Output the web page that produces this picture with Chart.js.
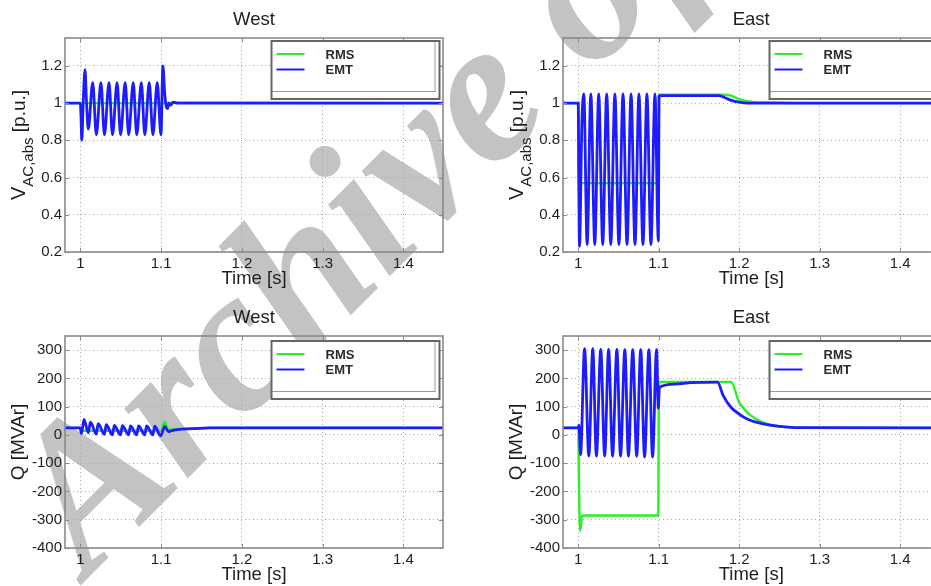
<!DOCTYPE html>
<html><head><meta charset="utf-8">
<script src="https://cdn.jsdelivr.net/npm/chart.js@4/dist/chart.umd.min.js"></script>
<style>
html,body{margin:0;padding:0;background:#fff;overflow:hidden;width:931px;height:586px;position:relative;}
canvas{position:absolute;display:block;}
</style></head><body>
<canvas id="wm" width="931" height="586" style="left:0;top:0"></canvas>
<canvas id="c1" width="470" height="293" style="left:0;top:0"></canvas>
<canvas id="c2" width="500" height="293" style="left:470px;top:0"></canvas>
<canvas id="c3" width="470" height="293" style="left:0;top:293px"></canvas>
<canvas id="c4" width="500" height="293" style="left:470px;top:293px"></canvas>
<script>
// ---------- data ----------
const seriesNames = ['RMS', 'EMT'];
const panelTitles = ['West', 'East', 'West', 'East'];
const xTicks = [1, 1.1, 1.2, 1.3, 1.4];
const xTickLabels = ['1', '1.1', '1.2', '1.3', '1.4'];
const vTicks = [0.2, 0.4, 0.6, 0.8, 1, 1.2];
const vTickLabels = ['0.2', '0.4', '0.6', '0.8', '1', '1.2'];
const qTicks = [-400, -300, -200, -100, 0, 100, 200, 300];
const qTickLabels = ['-400', '-300', '-200', '-100', '0', '100', '200', '300'];

// [time s, value]
const westV_RMS = [[0.981,1.0],[1.0,1.0],[1.001,1.0],[1.1,1.0],[1.11,1.002],[1.449,1.0]];
const westV_EMT = [[0.981,1.0],[1.0,1.0],[1.0008,0.93],[1.0018,0.80],[1.0035,1.0],[1.0058,1.18],[1.0075,1.02],[1.0098,0.86],
  [1.0153,1.11],[1.0198,0.83],[1.0255,1.11],[1.0298,0.83],[1.0355,1.11],[1.0398,0.83],[1.0455,1.11],[1.0498,0.83],
  [1.0555,1.11],[1.0598,0.83],[1.0655,1.11],[1.0698,0.83],[1.0755,1.11],[1.0798,0.83],[1.0853,1.11],[1.0898,0.83],
  [1.0952,1.11],[1.0998,0.83],[1.1022,1.20],[1.1045,1.05],[1.1065,0.98],[1.108,0.97],[1.1095,1.0],[1.112,0.99],
  [1.115,1.005],[1.12,1.0],[1.449,1.0]];
const eastV_RMS = [[0.981,1.0],[1.0,1.0],[1.0005,0.57],[1.0995,0.57],[1.1,1.045],[1.18,1.045],[1.19,1.04],[1.2,1.022],
  [1.21,1.01],[1.22,1.005],[1.24,1.003],[1.28,1.0],[1.449,1.0]];
const eastV_EMT = [[0.981,1.0],[1.0,1.0],[1.0006,0.6],[1.0015,0.23],[1.0045,0.9],[1.0069,1.05],[1.011,0.24],[1.0156,1.05],
  [1.0205,0.24],[1.0254,1.05],[1.0304,0.24],[1.0353,1.05],[1.0404,0.24],[1.0455,1.05],[1.0505,0.24],[1.0556,1.05],
  [1.0606,0.24],[1.0656,1.05],[1.0705,0.24],[1.0754,1.05],[1.0804,0.24],[1.0853,1.05],[1.0903,0.24],[1.0953,1.05],
  [1.0995,0.26],[1.1005,1.04],[1.12,1.04],[1.175,1.04],[1.18,1.033],[1.19,1.015],[1.2,1.005],[1.21,1.0],[1.449,1.0]];
const westQ_RMS = [[0.981,25],[1.0,25],[1.001,15],[1.1,15],[1.1045,47],[1.108,22],[1.112,19],[1.12,21],[1.14,23],[1.16,25],[1.449,25]];
const westQ_EMT = [[0.981,25],[1.0,25],[1.0008,10],[1.0015,5],[1.0045,55],[1.0098,8],[1.0125,45],[1.0198,3],[1.022,40],
  [1.0298,2],[1.032,36],[1.0398,0],[1.042,34],[1.0498,0],[1.052,33],[1.0598,0],[1.062,32],[1.0698,0],[1.072,32],
  [1.0798,0],[1.082,32],[1.0898,0],[1.092,31],[1.0995,-3],[1.1045,30],[1.109,12],[1.113,15],[1.12,19],[1.14,22],
  [1.16,25],[1.449,25]];
const eastQ_RMS = [[0.981,25],[1.0,25],[1.0008,-160],[1.0022,-340],[1.0045,-290],[1.006,-285],[1.0995,-285],[1.1,90],
  [1.1008,187],[1.19,187],[1.2,115],[1.21,80],[1.22,58],[1.23,44],[1.24,35],[1.25,30],[1.27,26],[1.449,25]];
const eastQ_EMT = [[0.981,25],[1.0,25],[1.0008,35],[1.0028,-70],[1.0078,305],[1.0131,-75],[1.018,305],[1.0225,-75],
  [1.0279,303],[1.0328,-75],[1.0377,303],[1.0426,-75],[1.048,303],[1.0525,-75],[1.0579,302],[1.0623,-75],[1.0677,302],
  [1.0726,-75],[1.0776,302],[1.0824,-78],[1.0878,302],[1.0923,-78],[1.0973,302],[1.0995,95],[1.1008,168],[1.12,180],
  [1.14,185],[1.173,187],[1.18,140],[1.19,97],[1.2,74],[1.21,56],[1.22,46],[1.23,39],[1.25,30],[1.27,26],[1.449,25]];

// ---------- styling ----------
const GREEN = '#2bef2b', BLUE = '#1c1cff';
const FONT = '"Liberation Sans", Arial, sans-serif';
const TXT = '#1e1e1e';

// watermark (behind the transparent chart canvases)
(function(){
  const c = document.getElementById('wm').getContext('2d');
  c.save();
  c.translate(88, 578);
  c.rotate(-45 * Math.PI / 180);
  c.fillStyle = '#c3c3c3';
  c.font = 'italic bold 205px "Liberation Serif", serif';
  c.textBaseline = 'alphabetic';
  c.fillText('Archive of SID', 0, 0);
  c.restore();
})();

function drawDeco(chart, o) {
  const ctx = chart.ctx, a = chart.chartArea;
  const xs = chart.scales.x, ys = chart.scales.y;
  ctx.save();
  // tick marks (inward) + frame
  ctx.strokeStyle = '#8a8a8a'; ctx.lineWidth = 1;
  ctx.beginPath();
  for (const t of xTicks) { const px = Math.round(xs.getPixelForValue(t)) + 0.5;
    ctx.moveTo(px, a.bottom); ctx.lineTo(px, a.bottom - 4); ctx.moveTo(px, a.top); ctx.lineTo(px, a.top + 4); }
  for (const t of o.yTicks) { const py = Math.round(ys.getPixelForValue(t)) + 0.5;
    ctx.moveTo(a.left, py); ctx.lineTo(a.left + 4, py); ctx.moveTo(a.right, py); ctx.lineTo(a.right - 4, py); }
  ctx.stroke();
  ctx.lineWidth = 1.6;
  ctx.strokeRect(a.left, a.top, a.right - a.left, a.bottom - a.top);
  // title and x label
  ctx.fillStyle = TXT; ctx.textAlign = 'center'; ctx.textBaseline = 'middle';
  ctx.font = '18.5px ' + FONT;
  const cx = (a.left + a.right) / 2;
  ctx.fillText(o.title, cx, a.top + o.titleDy);
  ctx.fillText('Time [s]', cx, a.bottom + o.xlabDy);
  // y label (rotated, with subscript parts)
  ctx.save();
  ctx.translate(a.left + o.ylabDx, (a.top + a.bottom) / 2);
  ctx.rotate(-Math.PI / 2);
  ctx.textAlign = 'left'; ctx.textBaseline = 'alphabetic';
  const widths = [];
  let total = 0;
  for (const p of o.ylab) { ctx.font = p.size + 'px ' + FONT; const w = ctx.measureText(p.t).width; widths.push(w); total += w; }
  let x = -total / 2;
  o.ylab.forEach((p, i) => { ctx.font = p.size + 'px ' + FONT; ctx.fillText(p.t, x, p.shift); x += widths[i]; });
  ctx.restore();
  // legend
  const L = a.left + 206.5, T = a.top + o.legDy, W = 168, H = 58;
  ctx.fillStyle = '#fff'; ctx.fillRect(L, T, W, H);
  ctx.strokeStyle = '#9a9a9a'; ctx.lineWidth = 1;
  ctx.beginPath(); ctx.moveTo(L, T + H - 7.5); ctx.lineTo(L + W - 4, T + H - 7.5);
  ctx.moveTo(L + W - 4.5, T); ctx.lineTo(L + W - 4.5, T + H - 7.5); ctx.stroke();
  ctx.strokeStyle = '#666'; ctx.lineWidth = 2;
  ctx.strokeRect(L, T, W, H);
  ctx.lineWidth = 2;
  ctx.strokeStyle = GREEN; ctx.beginPath(); ctx.moveTo(L + 5, T + 13); ctx.lineTo(L + 33, T + 13); ctx.stroke();
  ctx.strokeStyle = BLUE; ctx.beginPath(); ctx.moveTo(L + 5, T + 28.5); ctx.lineTo(L + 33, T + 28.5); ctx.stroke();
  ctx.fillStyle = '#2a2a2a'; ctx.font = 'bold 13px ' + FONT; ctx.textAlign = 'left'; ctx.textBaseline = 'middle';
  ctx.fillText(seriesNames[0], L + 54, T + 14);
  ctx.fillText(seriesNames[1], L + 54, T + 29.5);
  ctx.restore();
}

function xy(arr) { return arr.map(p => ({ x: p[0], y: p[1] })); }

function makeChart(id, rms, emt, cfg) {
  const ticksSet = cfg.yTicks, labels = cfg.yLabels;
  return new Chart(document.getElementById(id), {
    type: 'line',
    data: { datasets: [
      { label: seriesNames[0], data: xy(rms), borderColor: GREEN, borderWidth: 2.4, pointRadius: 0, order: 2, cubicInterpolationMode: 'monotone' },
      { label: seriesNames[1], data: xy(emt), borderColor: BLUE, borderWidth: 2.8, pointRadius: 0, order: 1, cubicInterpolationMode: 'monotone' }
    ] },
    options: {
      responsive: false, animation: false, events: [],
      layout: { padding: { top: cfg.top, right: cfg.right, left: 0, bottom: 0 } },
      plugins: { legend: { display: false }, tooltip: { enabled: false } },
      scales: {
        x: { type: 'linear', min: 0.981, max: 1.449,
          afterBuildTicks: s => { s.ticks = xTicks.map(v => ({ value: v })); },
          afterFit: s => { s.height = cfg.xh; },
          grid: { color: '#a8a8a8', lineWidth: 1, drawTicks: false },
          border: { display: false, dash: [1, 3] },
          ticks: { padding: 3, color: TXT, font: { family: FONT, size: 15 }, maxRotation: 0,
            callback: v => { const i = xTicks.findIndex(t => Math.abs(t - v) < 1e-9); return i >= 0 ? xTickLabels[i] : ''; } } },
        y: { type: 'linear', min: cfg.ymin, max: cfg.ymax,
          afterBuildTicks: s => { s.ticks = ticksSet.map(v => ({ value: v })); },
          afterFit: s => { s.width = cfg.yw; },
          grid: { color: '#a8a8a8', lineWidth: 1, drawTicks: false },
          border: { display: false, dash: [1, 3] },
          ticks: { padding: 3, color: TXT, font: { family: FONT, size: 15 },
            callback: v => { const i = ticksSet.findIndex(t => Math.abs(t - v) < 1e-9); return i >= 0 ? labels[i] : ''; } } }
      }
    },
    plugins: [{ id: 'deco_' + id, afterDraw(chart) { drawDeco(chart, cfg); } }]
  });
}

const vLab = [{ t: 'V', size: 20, shift: 0 }, { t: 'AC,abs', size: 15, shift: 8 }, { t: ' [p.u.]', size: 19, shift: 0 }];
const qLab = [{ t: 'Q [MVAr]', size: 19, shift: 0 }];

makeChart('c1', westV_RMS, westV_EMT, { title: panelTitles[0], yTicks: vTicks, yLabels: vTickLabels, ymin: 0.2, ymax: 1.35,
  top: 38, right: 27, xh: 41, yw: 65, ylab: vLab, titleDy: -18, xlabDy: 27, ylabDx: -40, legDy: 3 });
makeChart('c2', eastV_RMS, eastV_EMT, { title: panelTitles[1], yTicks: vTicks, yLabels: vTickLabels, ymin: 0.2, ymax: 1.35,
  top: 38, right: 30.5, xh: 41, yw: 93, ylab: vLab, titleDy: -18, xlabDy: 27, ylabDx: -40, legDy: 3 });
makeChart('c3', westQ_RMS, westQ_EMT, { title: panelTitles[2], yTicks: qTicks, yLabels: qTickLabels, ymin: -400, ymax: 350,
  top: 43, right: 27, xh: 38, yw: 65, ylab: qLab, titleDy: -18, xlabDy: 27, ylabDx: -41, legDy: 5 });
makeChart('c4', eastQ_RMS, eastQ_EMT, { title: panelTitles[3], yTicks: qTicks, yLabels: qTickLabels, ymin: -400, ymax: 350,
  top: 43, right: 30.5, xh: 38, yw: 93, ylab: qLab, titleDy: -18, xlabDy: 27, ylabDx: -41, legDy: 5 });
</script>
</body></html>
